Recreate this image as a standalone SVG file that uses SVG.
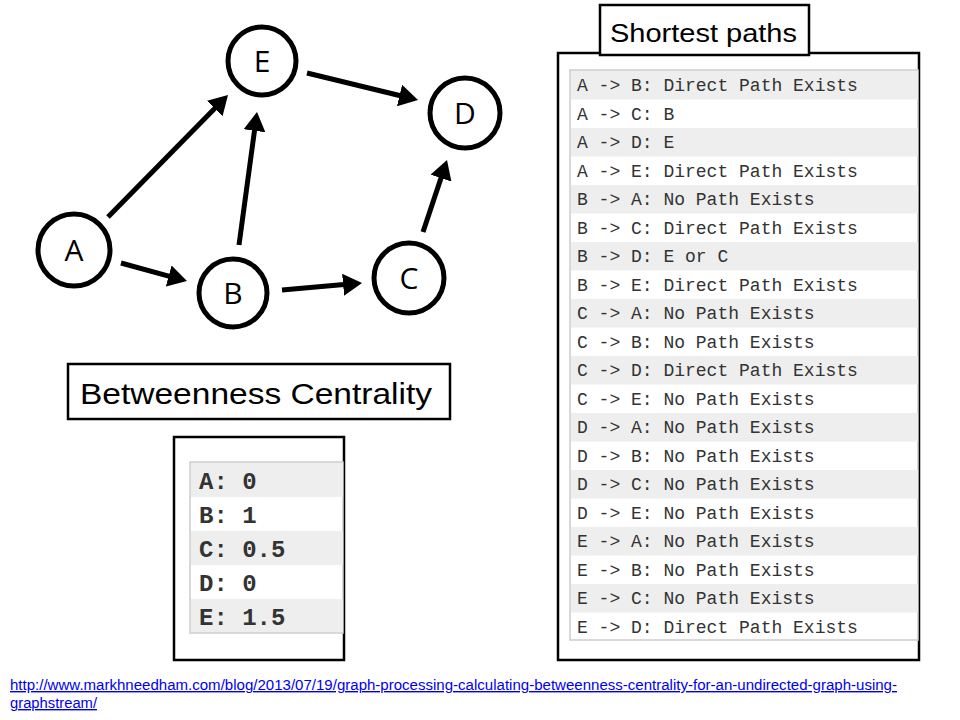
<svg xmlns="http://www.w3.org/2000/svg" width="960" height="720" viewBox="0 0 960 720">
<defs>
<style>
.node circle{fill:#fff;stroke:#000;stroke-width:5}
.node text{font-family:"Open Sans","DejaVu Sans",sans-serif;font-size:30px;fill:#000;text-anchor:middle}
.edge{stroke:#000;stroke-width:5;fill:none}
.box{fill:#fff;stroke:#000;stroke-width:2.5}
.title{font-family:"Liberation Sans",Arial,sans-serif;fill:#000}
.mono{font-family:"Liberation Mono","Courier New",monospace;fill:#333}
.g{fill:#eeeeee}
.url{font-family:"Liberation Sans",Arial,sans-serif;font-size:14px;fill:#0000ee;text-decoration:underline}
</style>
<marker id="arr" markerUnits="userSpaceOnUse" markerWidth="20" markerHeight="22" refX="1" refY="11" orient="auto">
<path d="M0,0 L19,11 L0,22 Z" fill="#000"/>
</marker>
</defs>
<rect width="960" height="720" fill="#fff"/>

<g id="connectors">
<line class="edge" x1="108" y1="217" x2="215.4" y2="107.8" marker-end="url(#arr)"/>
<line class="edge" x1="307" y1="73" x2="400.5" y2="95.7" marker-end="url(#arr)"/>
<line class="edge" x1="239" y1="245" x2="254.6" y2="129.8" marker-end="url(#arr)"/>
<line class="edge" x1="121" y1="263" x2="169.6" y2="276.3" marker-end="url(#arr)"/>
<line class="edge" x1="282" y1="290" x2="344.1" y2="284.6" marker-end="url(#arr)"/>
<line class="edge" x1="423" y1="232" x2="441.3" y2="177.1" marker-end="url(#arr)"/>
</g>

<g id="node-E" class="node"><circle cx="262" cy="61" r="34"/><text x="262" y="72">E</text></g>
<g id="node-D" class="node"><circle cx="465" cy="113" r="35"/><text x="465" y="124">D</text></g>
<g id="node-A" class="node"><circle cx="74" cy="250" r="36"/><text x="74" y="261">A</text></g>
<g id="node-B" class="node"><circle cx="233" cy="293" r="34"/><text x="233" y="304">B</text></g>
<g id="node-C" class="node"><circle cx="409" cy="278" r="35"/><text x="409" y="289">C</text></g>

<g id="shortest-paths">
<rect class="box" x="558" y="53" width="361" height="607"/>
<rect x="570" y="70" width="348" height="570" fill="#fff" stroke="#cccccc" stroke-width="1.5"/>
<rect class="g" x="571" y="71" width="347" height="28.5"/>
<rect class="g" x="571" y="128" width="347" height="28.5"/>
<rect class="g" x="571" y="185" width="347" height="28.5"/>
<rect class="g" x="571" y="242" width="347" height="28.5"/>
<rect class="g" x="571" y="299" width="347" height="28.5"/>
<rect class="g" x="571" y="356" width="347" height="28.5"/>
<rect class="g" x="571" y="413" width="347" height="28.5"/>
<rect class="g" x="571" y="470" width="347" height="28.5"/>
<rect class="g" x="571" y="527" width="347" height="28.5"/>
<rect class="g" x="571" y="584" width="347" height="28.5"/>
<g class="mono" font-size="18">
<text x="577" y="91">A -&gt; B: Direct Path Exists</text>
<text x="577" y="119.5">A -&gt; C: B</text>
<text x="577" y="148">A -&gt; D: E</text>
<text x="577" y="176.5">A -&gt; E: Direct Path Exists</text>
<text x="577" y="205">B -&gt; A: No Path Exists</text>
<text x="577" y="233.5">B -&gt; C: Direct Path Exists</text>
<text x="577" y="262">B -&gt; D: E or C</text>
<text x="577" y="290.5">B -&gt; E: Direct Path Exists</text>
<text x="577" y="319">C -&gt; A: No Path Exists</text>
<text x="577" y="347.5">C -&gt; B: No Path Exists</text>
<text x="577" y="376">C -&gt; D: Direct Path Exists</text>
<text x="577" y="404.5">C -&gt; E: No Path Exists</text>
<text x="577" y="433">D -&gt; A: No Path Exists</text>
<text x="577" y="461.5">D -&gt; B: No Path Exists</text>
<text x="577" y="490">D -&gt; C: No Path Exists</text>
<text x="577" y="518.5">D -&gt; E: No Path Exists</text>
<text x="577" y="547">E -&gt; A: No Path Exists</text>
<text x="577" y="575.5">E -&gt; B: No Path Exists</text>
<text x="577" y="604">E -&gt; C: No Path Exists</text>
<text x="577" y="632.5">E -&gt; D: Direct Path Exists</text>
</g>
<rect class="box" x="600" y="5" width="209" height="50"/>
<text class="title" x="610" y="42" font-size="26" textLength="187" lengthAdjust="spacingAndGlyphs">Shortest paths</text>
</g>

<g id="betweenness">
<rect class="box" x="68" y="364" width="382" height="55"/>
<text class="title" x="80" y="404" font-size="30" textLength="352" lengthAdjust="spacingAndGlyphs">Betweenness  Centrality</text>
<rect class="box" x="174" y="437" width="170" height="223"/>
<rect x="190" y="462" width="153" height="171" fill="#fff" stroke="#cccccc" stroke-width="1.5"/>
<rect class="g" x="191" y="463" width="152" height="34"/>
<rect class="g" x="191" y="531" width="152" height="34"/>
<rect class="g" x="191" y="599" width="152" height="33"/>
<g class="mono" font-size="24" font-weight="bold" fill="#3a3a3a">
<text x="199" y="489">A: 0</text>
<text x="199" y="523">B: 1</text>
<text x="199" y="557">C: 0.5</text>
<text x="199" y="591">D: 0</text>
<text x="199" y="625">E: 1.5</text>
</g>
</g>

<g id="source">
<text class="url" x="10" y="690" textLength="887" lengthAdjust="spacingAndGlyphs">http://www.markhneedham.com/blog/2013/07/19/graph-processing-calculating-betweenness-centrality-for-an-undirected-graph-using-</text>
<text class="url" x="10" y="708" textLength="87" lengthAdjust="spacingAndGlyphs">graphstream/</text>
</g>
</svg>
